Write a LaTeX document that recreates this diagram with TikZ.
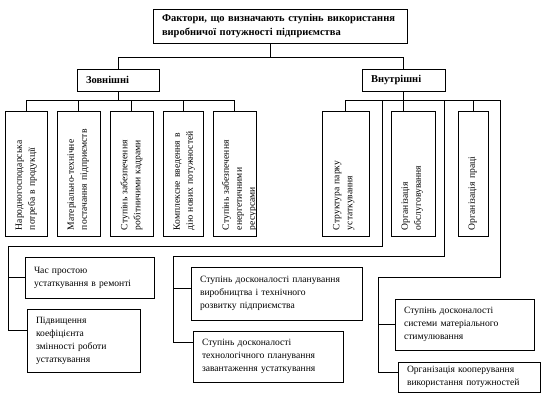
\documentclass[tikz,border=0pt]{standalone}
\usepackage{fontspec}
\setmainfont{Liberation Serif}
\begin{document}
\begin{tikzpicture}[x=1pt,y=-1pt,line width=0.7pt,
    box/.style={draw, rectangle, inner xsep=9pt, inner ysep=2pt, align=left,
      font=\fontsize{9.6}{13}\selectfont},
    head/.style={box, font=\bfseries\fontsize{10.5}{14}\selectfont},
    vbox/.style={draw, rectangle, minimum height=125pt, inner sep=0pt},
    vtext/.style={rotate=90, anchor=north, inner sep=0pt, text width=113pt,
      align=left, font=\fontsize{9.6}{13}\selectfont}]
  \useasboundingbox (0,0) rectangle (551,400);

  % top level
  \node (title) [head, text width=236pt, minimum height=34pt] at (280,26)
    {Фактори, що визначають ступінь використання\\виробничої потужності підприємства};
  \node (ext) [head, text width=64pt, minimum height=22pt] at (118,80) {Зовнішні};
  \node (int) [head, text width=65pt, minimum height=22pt] at (403.5,80) {Внутрішні};

  % external factors
  \node (e1) [vbox, minimum width=42pt] at (26,173.5) {};
  \node (e2) [vbox, minimum width=43pt] at (78.5,173.5) {};
  \node (e3) [vbox, minimum width=43pt] at (131.5,173.5) {};
  \node (e4) [vbox, minimum width=40pt] at (183,173.5) {};
  \node (e5) [vbox, minimum width=43pt] at (234.5,173.5) {};
  \node [vtext] at ([xshift=10.5pt]e1.west) {Народногосподарська\\потреба в продукції};
  \node [vtext] at ([xshift=10.5pt]e2.west) {Матеріально-технічне\\постачання підприємств};
  \node [vtext] at ([xshift=10.5pt]e3.west) {Ступінь забезпечення\\робітничими кадрами};
  \node [vtext] at ([xshift=10.5pt]e4.west) {Комплексне введення в\\дію нових потужностей};
  \node [vtext] at ([xshift=9pt]e5.west) {Ступінь забезпечення\\енергетичними\\ресурсами};

  % internal factors
  \node (i1) [vbox, minimum width=47pt] at (345.5,173.5) {};
  \node (i2) [vbox, minimum width=44pt] at (413,173.5) {};
  \node (i3) [vbox, minimum width=30pt] at (473,173.5) {};
  \node [vtext] at ([xshift=11pt]i1.west) {Структура парку\\устаткування};
  \node [vtext] at ([xshift=10.5pt]i2.west) {Організація\\обслуговування};
  \node [vtext] at ([xshift=10.5pt]i3.west) {Організація праці};

  % lower boxes
  \node (dA) [box, text width=111pt, minimum height=41pt] at (89.5,277.5)
    {Час простою\\устаткування в ремонті};
  \node (dB) [box, text width=95pt, minimum height=63pt] at (83.5,340.5)
    {Підвищення\\коефіцієнта\\змінності роботи\\устаткування};
  \node (pA) [box, text width=153pt, minimum height=53pt] at (276.5,293.5)
    {Ступінь досконалості планування\\виробництва і технічного\\розвитку підприємства};
  \node (pB) [box, text width=132pt, minimum height=51pt] at (268,356.5)
    {Ступінь досконалості\\технологічного планування\\завантаження устаткування};
  \node (sA) [box, text width=121pt, minimum height=51pt] at (464.5,324.5)
    {Ступінь досконалості\\системи матеріального\\стимулювання};
  \node (sB) [box, text width=124pt, minimum height=30pt] at (469,377)
    {Організація кооперування\\використання потужностей};

  % bus lines and corners
  \coordinate (b1) at (0,57);
  \coordinate (b2) at (0,100);
  \coordinate (l1) at (382,246);
  \coordinate (l2) at (444,256);
  \coordinate (l3) at (500,277);
  \coordinate (jA) at (8,246);
  \coordinate (jP) at (173,256);
  \coordinate (jS) at (378,277);

  \draw ([xshift=-10pt]title.south) -- ([xshift=-10pt]title.south |- b1);
  \draw (ext.north) -- (ext.north |- b1) -- (int.north |- b1) -- (int.north);

  \draw (ext.south) -- (ext.south |- b2);
  \draw (e1.north) |- (b2 -| e5.north) -- (e5.north);
  \foreach \n in {e2,e3,e4}
    \draw (\n.north) -- (\n.north |- b2);

  \draw (int.south) -- (int.south |- i2.north);
  \draw (i1.north) |- (b2 -| l3) -- (l3) -- (jS) |- ([yshift=5pt]sB.west);
  \draw (i3.north) -- (i3.north |- b2);
  \draw (sA.west) -| (jS);

  \draw (l1 |- b2) -- (l1) -- (jA) |- ([yshift=10pt]dB.west);
  \draw (dA.west) -| (jA);

  \draw (l2 |- b2) -- (l2) -- (jP) |- ([yshift=14pt]pB.west);
  \draw ([yshift=5pt]pA.west) -| (jP);
\end{tikzpicture}
\end{document}
